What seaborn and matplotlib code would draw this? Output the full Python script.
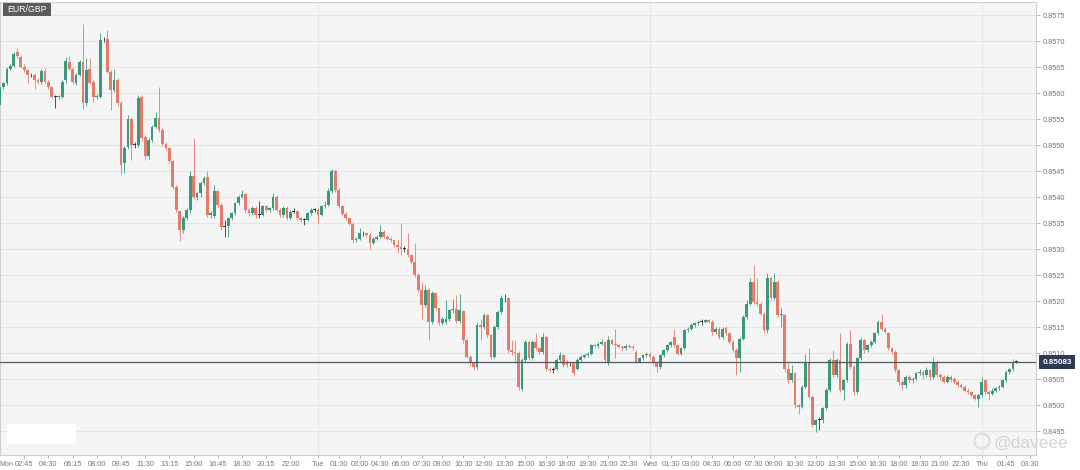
import numpy as np
import seaborn as sns
import matplotlib
matplotlib.use('Agg')
import matplotlib.pyplot as plt
from matplotlib.patches import Rectangle, Ellipse

# EUR/GBP 15 minute candles, Mon 01:00 -> Thu 02:30
opens = [
    0.85577, 0.85611, 0.85620, 0.85647, 0.85652, 0.85679, 0.85670, 0.85651, 0.85644, 0.85635,
    0.85635, 0.85625, 0.85621, 0.85643, 0.85622, 0.85611, 0.85593, 0.85592, 0.85593, 0.85625,
    0.85660, 0.85646, 0.85619, 0.85635, 0.85660, 0.85581, 0.85646, 0.85622, 0.85593, 0.85593,
    0.85703, 0.85704, 0.85641, 0.85606, 0.85625, 0.85580, 0.85465, 0.85496, 0.85550, 0.85500,
    0.85500, 0.85592, 0.85516, 0.85478, 0.85510, 0.85535, 0.85552, 0.85529, 0.85502, 0.85494,
    0.85469, 0.85420, 0.85373, 0.85337, 0.85360, 0.85375, 0.85440, 0.85401, 0.85407, 0.85427,
    0.85438, 0.85366, 0.85363, 0.85411, 0.85385, 0.85343, 0.85344, 0.85359, 0.85369, 0.85388,
    0.85401, 0.85405, 0.85375, 0.85369, 0.85379, 0.85366, 0.85366, 0.85382, 0.85375, 0.85378,
    0.85400, 0.85375, 0.85366, 0.85379, 0.85360, 0.85372, 0.85373, 0.85359, 0.85356, 0.85356,
    0.85369, 0.85375, 0.85376, 0.85366, 0.85382, 0.85385, 0.85411, 0.85450, 0.85414, 0.85382,
    0.85368, 0.85359, 0.85349, 0.85317, 0.85320, 0.85330, 0.85330, 0.85327, 0.85312, 0.85320,
    0.85324, 0.85333, 0.85324, 0.85320, 0.85317, 0.85307, 0.85304, 0.85301, 0.85301, 0.85288,
    0.85275, 0.85250, 0.85221, 0.85192, 0.85222, 0.85160, 0.85215, 0.85186, 0.85158, 0.85160,
    0.85166, 0.85182, 0.85185, 0.85162, 0.85180, 0.85125, 0.85093, 0.85080, 0.85074, 0.85154,
    0.85150, 0.85173, 0.85134, 0.85093, 0.85150, 0.85179, 0.85205, 0.85205, 0.85106, 0.85103,
    0.85100, 0.85031, 0.85086, 0.85122, 0.85090, 0.85121, 0.85109, 0.85103, 0.85131, 0.85070,
    0.85067, 0.85070, 0.85086, 0.85096, 0.85083, 0.85080, 0.85080, 0.85070, 0.85086, 0.85093,
    0.85096, 0.85099, 0.85115, 0.85113, 0.85118, 0.85121, 0.85080, 0.85125, 0.85118, 0.85115,
    0.85112, 0.85109, 0.85114, 0.85112, 0.85102, 0.85083, 0.85090, 0.85096, 0.85099, 0.85093,
    0.85080, 0.85074, 0.85096, 0.85105, 0.85115, 0.85131, 0.85115, 0.85099, 0.85109, 0.85144,
    0.85147, 0.85154, 0.85157, 0.85160, 0.85160, 0.85163, 0.85160, 0.85140, 0.85147, 0.85131,
    0.85149, 0.85138, 0.85122, 0.85106, 0.85090, 0.85128, 0.85170, 0.85195, 0.85237, 0.85199,
    0.85195, 0.85176, 0.85144, 0.85244, 0.85205, 0.85237, 0.85173, 0.85173, 0.85070, 0.85048,
    0.85061, 0.85000, 0.84997, 0.85035, 0.85083, 0.85016, 0.84962, 0.84971, 0.84971, 0.84994,
    0.85029, 0.85087, 0.85058, 0.85087, 0.85029, 0.85048, 0.85118, 0.85074, 0.85026, 0.85090,
    0.85125, 0.85106, 0.85115, 0.85122, 0.85138, 0.85160, 0.85147, 0.85138, 0.85109, 0.85102,
    0.85067, 0.85045, 0.85038, 0.85054, 0.85048, 0.85051, 0.85061, 0.85064, 0.85058, 0.85067,
    0.85054, 0.85080, 0.85058, 0.85054, 0.85045, 0.85054, 0.85051, 0.85045, 0.85038, 0.85035,
    0.85028, 0.85025, 0.85019, 0.85012, 0.85019, 0.85048, 0.85025, 0.85022, 0.85028, 0.85032,
    0.85035, 0.85048, 0.85064, 0.85069, 0.85083,
]
closes = [
    0.85612, 0.85619, 0.85646, 0.85652, 0.85676, 0.85671, 0.85651, 0.85644, 0.85635, 0.85634,
    0.85625, 0.85621, 0.85642, 0.85622, 0.85612, 0.85593, 0.85592, 0.85594, 0.85622, 0.85662,
    0.85647, 0.85622, 0.85635, 0.85659, 0.85580, 0.85644, 0.85620, 0.85593, 0.85595, 0.85702,
    0.85704, 0.85641, 0.85606, 0.85625, 0.85580, 0.85462, 0.85494, 0.85550, 0.85500, 0.85500,
    0.85590, 0.85513, 0.85478, 0.85510, 0.85535, 0.85552, 0.85529, 0.85502, 0.85494, 0.85469,
    0.85420, 0.85375, 0.85337, 0.85360, 0.85375, 0.85440, 0.85401, 0.85407, 0.85427, 0.85437,
    0.85366, 0.85370, 0.85411, 0.85385, 0.85343, 0.85344, 0.85359, 0.85369, 0.85388, 0.85401,
    0.85405, 0.85375, 0.85369, 0.85379, 0.85366, 0.85366, 0.85382, 0.85375, 0.85378, 0.85400,
    0.85375, 0.85366, 0.85379, 0.85360, 0.85372, 0.85373, 0.85359, 0.85356, 0.85356, 0.85369,
    0.85375, 0.85376, 0.85366, 0.85382, 0.85385, 0.85411, 0.85450, 0.85414, 0.85382, 0.85368,
    0.85359, 0.85349, 0.85317, 0.85320, 0.85330, 0.85330, 0.85327, 0.85312, 0.85320, 0.85324,
    0.85333, 0.85324, 0.85320, 0.85317, 0.85307, 0.85304, 0.85301, 0.85301, 0.85288, 0.85275,
    0.85250, 0.85221, 0.85192, 0.85222, 0.85160, 0.85215, 0.85186, 0.85158, 0.85166, 0.85166,
    0.85182, 0.85185, 0.85162, 0.85182, 0.85125, 0.85093, 0.85080, 0.85074, 0.85154, 0.85150,
    0.85173, 0.85134, 0.85093, 0.85150, 0.85179, 0.85205, 0.85205, 0.85106, 0.85103, 0.85100,
    0.85035, 0.85086, 0.85122, 0.85090, 0.85121, 0.85109, 0.85103, 0.85131, 0.85070, 0.85067,
    0.85068, 0.85086, 0.85096, 0.85077, 0.85077, 0.85080, 0.85061, 0.85086, 0.85093, 0.85096,
    0.85099, 0.85115, 0.85113, 0.85118, 0.85121, 0.85086, 0.85125, 0.85118, 0.85115, 0.85112,
    0.85109, 0.85114, 0.85112, 0.85109, 0.85083, 0.85090, 0.85096, 0.85099, 0.85093, 0.85080,
    0.85074, 0.85096, 0.85105, 0.85115, 0.85121, 0.85115, 0.85099, 0.85109, 0.85144, 0.85147,
    0.85154, 0.85157, 0.85160, 0.85160, 0.85163, 0.85160, 0.85140, 0.85147, 0.85131, 0.85147,
    0.85138, 0.85122, 0.85106, 0.85090, 0.85128, 0.85170, 0.85195, 0.85237, 0.85199, 0.85195,
    0.85176, 0.85144, 0.85244, 0.85205, 0.85237, 0.85173, 0.85176, 0.85070, 0.85048, 0.85061,
    0.85000, 0.84997, 0.85035, 0.85083, 0.85016, 0.84962, 0.84971, 0.84971, 0.84994, 0.85029,
    0.85087, 0.85058, 0.85087, 0.85029, 0.85048, 0.85118, 0.85074, 0.85026, 0.85090, 0.85125,
    0.85106, 0.85115, 0.85122, 0.85138, 0.85160, 0.85147, 0.85141, 0.85109, 0.85102, 0.85067,
    0.85045, 0.85038, 0.85054, 0.85048, 0.85051, 0.85061, 0.85064, 0.85058, 0.85067, 0.85054,
    0.85080, 0.85058, 0.85054, 0.85045, 0.85054, 0.85048, 0.85045, 0.85038, 0.85035, 0.85028,
    0.85025, 0.85019, 0.85012, 0.85019, 0.85044, 0.85025, 0.85022, 0.85028, 0.85032, 0.85035,
    0.85048, 0.85064, 0.85069, 0.85083, 0.85083,
]
highs = [
    0.85615, 0.85622, 0.85650, 0.85655, 0.85679, 0.85686, 0.85674, 0.85655, 0.85646, 0.85638,
    0.85638, 0.85628, 0.85646, 0.85648, 0.85625, 0.85614, 0.85596, 0.85597, 0.85625, 0.85670,
    0.85671, 0.85650, 0.85638, 0.85664, 0.85733, 0.85667, 0.85667, 0.85625, 0.85598, 0.85715,
    0.85708, 0.85721, 0.85645, 0.85647, 0.85628, 0.85584, 0.85498, 0.85558, 0.85553, 0.85506,
    0.85596, 0.85596, 0.85519, 0.85514, 0.85538, 0.85564, 0.85612, 0.85533, 0.85506, 0.85497,
    0.85472, 0.85424, 0.85376, 0.85364, 0.85378, 0.85450, 0.85513, 0.85410, 0.85430, 0.85440,
    0.85450, 0.85374, 0.85424, 0.85414, 0.85388, 0.85356, 0.85362, 0.85372, 0.85391, 0.85404,
    0.85414, 0.85408, 0.85378, 0.85382, 0.85382, 0.85392, 0.85385, 0.85385, 0.85381, 0.85407,
    0.85403, 0.85378, 0.85382, 0.85382, 0.85376, 0.85378, 0.85376, 0.85362, 0.85360, 0.85372,
    0.85378, 0.85379, 0.85379, 0.85385, 0.85392, 0.85418, 0.85453, 0.85453, 0.85417, 0.85385,
    0.85371, 0.85362, 0.85352, 0.85324, 0.85340, 0.85334, 0.85333, 0.85330, 0.85323, 0.85327,
    0.85346, 0.85336, 0.85327, 0.85323, 0.85320, 0.85317, 0.85350, 0.85305, 0.85330, 0.85291,
    0.85311, 0.85253, 0.85237, 0.85230, 0.85226, 0.85220, 0.85218, 0.85189, 0.85170, 0.85202,
    0.85185, 0.85204, 0.85211, 0.85214, 0.85183, 0.85128, 0.85096, 0.85083, 0.85160, 0.85165,
    0.85177, 0.85176, 0.85137, 0.85154, 0.85182, 0.85211, 0.85214, 0.85208, 0.85125, 0.85125,
    0.85104, 0.85090, 0.85126, 0.85125, 0.85125, 0.85138, 0.85112, 0.85138, 0.85134, 0.85074,
    0.85073, 0.85090, 0.85102, 0.85099, 0.85086, 0.85083, 0.85083, 0.85090, 0.85096, 0.85099,
    0.85102, 0.85118, 0.85118, 0.85122, 0.85128, 0.85124, 0.85132, 0.85128, 0.85147, 0.85118,
    0.85115, 0.85117, 0.85117, 0.85115, 0.85105, 0.85093, 0.85099, 0.85102, 0.85102, 0.85096,
    0.85083, 0.85099, 0.85108, 0.85118, 0.85124, 0.85147, 0.85118, 0.85112, 0.85147, 0.85150,
    0.85157, 0.85160, 0.85163, 0.85165, 0.85166, 0.85166, 0.85163, 0.85150, 0.85150, 0.85150,
    0.85152, 0.85141, 0.85125, 0.85109, 0.85131, 0.85173, 0.85202, 0.85244, 0.85269, 0.85244,
    0.85198, 0.85179, 0.85253, 0.85247, 0.85253, 0.85240, 0.85186, 0.85176, 0.85083, 0.85077,
    0.85064, 0.85003, 0.85038, 0.85099, 0.85109, 0.85019, 0.84974, 0.84977, 0.84997, 0.85032,
    0.85090, 0.85106, 0.85090, 0.85138, 0.85051, 0.85122, 0.85144, 0.85077, 0.85093, 0.85131,
    0.85128, 0.85118, 0.85125, 0.85141, 0.85163, 0.85176, 0.85150, 0.85141, 0.85112, 0.85105,
    0.85070, 0.85048, 0.85058, 0.85058, 0.85054, 0.85064, 0.85070, 0.85067, 0.85074, 0.85070,
    0.85093, 0.85086, 0.85061, 0.85058, 0.85058, 0.85058, 0.85054, 0.85048, 0.85042, 0.85038,
    0.85032, 0.85028, 0.85022, 0.85022, 0.85054, 0.85051, 0.85029, 0.85032, 0.85035, 0.85038,
    0.85051, 0.85067, 0.85072, 0.85089, 0.85087,
]
lows = [
    0.85570, 0.85608, 0.85615, 0.85645, 0.85650, 0.85668, 0.85648, 0.85640, 0.85619, 0.85630,
    0.85607, 0.85618, 0.85618, 0.85619, 0.85608, 0.85590, 0.85572, 0.85589, 0.85590, 0.85620,
    0.85644, 0.85617, 0.85615, 0.85632, 0.85570, 0.85576, 0.85617, 0.85583, 0.85588, 0.85590,
    0.85699, 0.85638, 0.85567, 0.85602, 0.85576, 0.85443, 0.85446, 0.85492, 0.85471, 0.85494,
    0.85497, 0.85508, 0.85472, 0.85474, 0.85506, 0.85532, 0.85526, 0.85499, 0.85490, 0.85465,
    0.85415, 0.85372, 0.85315, 0.85330, 0.85356, 0.85370, 0.85396, 0.85395, 0.85400, 0.85424,
    0.85362, 0.85360, 0.85360, 0.85380, 0.85337, 0.85324, 0.85324, 0.85356, 0.85366, 0.85385,
    0.85398, 0.85370, 0.85364, 0.85366, 0.85360, 0.85360, 0.85363, 0.85372, 0.85372, 0.85375,
    0.85372, 0.85362, 0.85362, 0.85356, 0.85356, 0.85369, 0.85356, 0.85352, 0.85347, 0.85353,
    0.85366, 0.85372, 0.85350, 0.85363, 0.85379, 0.85382, 0.85408, 0.85410, 0.85378, 0.85365,
    0.85356, 0.85346, 0.85311, 0.85314, 0.85317, 0.85326, 0.85324, 0.85301, 0.85309, 0.85317,
    0.85321, 0.85321, 0.85317, 0.85314, 0.85304, 0.85292, 0.85288, 0.85295, 0.85285, 0.85272,
    0.85246, 0.85218, 0.85166, 0.85188, 0.85125, 0.85156, 0.85182, 0.85154, 0.85154, 0.85156,
    0.85162, 0.85178, 0.85158, 0.85158, 0.85120, 0.85090, 0.85076, 0.85067, 0.85070, 0.85125,
    0.85146, 0.85130, 0.85089, 0.85090, 0.85146, 0.85176, 0.85198, 0.85100, 0.85096, 0.85080,
    0.85029, 0.85028, 0.85083, 0.85087, 0.85086, 0.85106, 0.85099, 0.85099, 0.85066, 0.85064,
    0.85061, 0.85067, 0.85083, 0.85074, 0.85074, 0.85076, 0.85058, 0.85067, 0.85083, 0.85090,
    0.85093, 0.85096, 0.85110, 0.85110, 0.85115, 0.85083, 0.85077, 0.85115, 0.85090, 0.85109,
    0.85106, 0.85106, 0.85109, 0.85105, 0.85080, 0.85080, 0.85087, 0.85093, 0.85090, 0.85077,
    0.85064, 0.85070, 0.85093, 0.85102, 0.85112, 0.85112, 0.85096, 0.85096, 0.85106, 0.85141,
    0.85144, 0.85151, 0.85154, 0.85154, 0.85157, 0.85157, 0.85135, 0.85137, 0.85128, 0.85128,
    0.85135, 0.85119, 0.85102, 0.85058, 0.85064, 0.85125, 0.85166, 0.85192, 0.85195, 0.85190,
    0.85173, 0.85141, 0.85138, 0.85202, 0.85202, 0.85170, 0.85151, 0.85064, 0.85042, 0.85045,
    0.84994, 0.84982, 0.84994, 0.85032, 0.85013, 0.84958, 0.84949, 0.84952, 0.84965, 0.84990,
    0.85026, 0.85054, 0.85054, 0.85026, 0.85010, 0.85045, 0.85070, 0.85019, 0.85022, 0.85087,
    0.85100, 0.85102, 0.85112, 0.85119, 0.85135, 0.85144, 0.85138, 0.85106, 0.85099, 0.85064,
    0.85038, 0.85029, 0.85032, 0.85042, 0.85042, 0.85048, 0.85058, 0.85051, 0.85054, 0.85048,
    0.85051, 0.85054, 0.85048, 0.85042, 0.85042, 0.85045, 0.85042, 0.85035, 0.85032, 0.85025,
    0.85022, 0.85016, 0.85010, 0.84996, 0.85016, 0.85022, 0.85010, 0.85019, 0.85025, 0.85029,
    0.85032, 0.85045, 0.85060, 0.85066, 0.85080,
]
last_price = 0.85083

# x axis: hours since Mon 00:00
tick_hours = [2.75, 4.5, 6.25, 8.0, 9.75, 11.5, 13.25, 15.0, 16.75, 18.5, 20.25, 22.0,
              24.0, 25.5, 27.0, 28.5, 30.0, 31.5, 33.0, 34.5, 36.0, 37.5, 39.0, 40.5,
              42.0, 43.5, 45.0, 46.5,
              48.0, 49.5, 51.0, 52.5, 54.0, 55.5, 57.0, 58.5, 60.0, 61.5, 63.0, 64.5,
              66.0, 67.5, 69.0, 70.5,
              72.0, 73.75, 75.5]
tick_labels = ['02:45', '04:30', '06:15', '08:00', '09:45', '11:30', '13:15', '15:00',
               '16:45', '18:30', '20:15', '22:00',
               'Tue', '01:30', '03:00', '04:30', '06:00', '07:30', '09:00', '10:30',
               '12:00', '13:30', '15:00', '16:30', '18:00', '19:30', '21:00', '22:30',
               'Wed', '01:30', '03:00', '04:30', '06:00', '07:30', '09:00', '10:30',
               '12:00', '13:30', '15:00', '16:30', '18:00', '19:30', '21:00', '22:30',
               'Thu', '01:45', '03:30']
day_hours = [24.0, 48.0, 72.0]
price_ticks = [0.8495, 0.8500, 0.8505, 0.8510, 0.8515, 0.8520, 0.8525, 0.8530, 0.8535,
               0.8540, 0.8545, 0.8550, 0.8555, 0.8560, 0.8565, 0.8570, 0.8575]

sns.set_theme(style='white')
plt.rcParams['font.family'] = ['Liberation Sans', 'DejaVu Sans']

UP = '#3a997d'
DOWN = '#e47b68'
DOJI = '#333333'

o = np.array(opens)
c = np.array(closes)
h = np.array(highs)
l = np.array(lows)
x = 1.0 + 0.25 * np.arange(len(c))

colors = np.where(np.abs(c - o) < 0.000015, DOJI, np.where(c > o, UP, DOWN))

W, H = 1080, 470
fig = plt.figure(figsize=(W / 100, H / 100), dpi=100)
fig.patch.set_facecolor('white')
ax = fig.add_axes([0.0, 15 / H, 1036 / W, 453.5 / H])
ax.set_facecolor('#f6f5f6')

ax.set_xlim(1.0, 75.92)
ax.set_ylim(0.84904, 0.85776)

# grid
for p in price_ticks:
    ax.axhline(p, color='#e5e5e5', lw=0.8, zorder=0)
for d in day_hours:
    ax.axvline(d, color='#e5e5e5', lw=0.8, zorder=0)

# wicks and bodies
ax.vlines(x, l, h, colors=colors, lw=0.6, zorder=2)
body = np.maximum(np.abs(c - o), 0.000015)
ax.bar(x, body, bottom=np.minimum(o, c), width=0.2, color=colors, lw=0, zorder=3)

# last price line + tag on the right
ax.axhline(last_price, color='#505a66', lw=0.9, zorder=4)
fig.patches.append(Rectangle((1039 / W, 1 - 369 / H), 36 / W, 14 / H,
                             transform=fig.transFigure, fc='#2d3b52', ec='none', zorder=5))
fig.text(1057 / W, 1 - 362 / H, f'{last_price:.5f}', ha='center', va='center',
         color='white', fontsize=5.8, fontweight='bold', zorder=6)

# symbol tag top-left
fig.patches.append(Rectangle((3 / W, 1 - 15.5 / H), 48 / W, 12.5 / H,
                             transform=fig.transFigure, fc='#5b5b5b', ec='none', zorder=5))
fig.text(27 / W, 1 - 9.3 / H, 'EUR/GBP', ha='center', va='center',
         color='white', fontsize=6.3, zorder=6)

# blank white box bottom-left
ax.add_patch(Rectangle((7 / 1036, 11 / 453.5), 69 / 1036, 20 / 453.5,
                       transform=ax.transAxes, fc='white', ec='none', zorder=6))

# axes styling
ax.yaxis.tick_right()
ax.set_yticks(price_ticks)
ax.set_yticklabels([f'{p:.4f}' for p in price_ticks])
ax.set_xticks(tick_hours)
ax.set_xticklabels(tick_labels)
ax.tick_params(axis='y', right=True, length=3, width=0.6, color='#aaaaaa',
               labelsize=5.3, labelcolor='#777777', pad=2)
ax.tick_params(axis='x', bottom=True, length=2.5, width=0.6, color='#aaaaaa',
               labelsize=5.3, labelcolor='#777777', pad=1.5)
for s in ax.spines.values():
    s.set_color('#d0d0d0')
    s.set_linewidth(0.8)
ax.grid(False)

ax.annotate('Mon', xy=(0, 0), xycoords='axes fraction', xytext=(-0.3, -4),
            textcoords='offset points', ha='left', va='top', fontsize=5.0,
            color='#777777')

# watermark
fig.patches.append(Ellipse((982 / W, 1 - 441 / H), 15 / W, 15 / H,
                           transform=fig.transFigure, fc='none', ec='#dcdcdc', lw=1.4))
fig.text(1068 / W, 1 - 443 / H, '@daveee', ha='right', va='center', fontsize=12.5,
         color='#d4d4d4')

fig.savefig('out.png', dpi=100, facecolor='white')
